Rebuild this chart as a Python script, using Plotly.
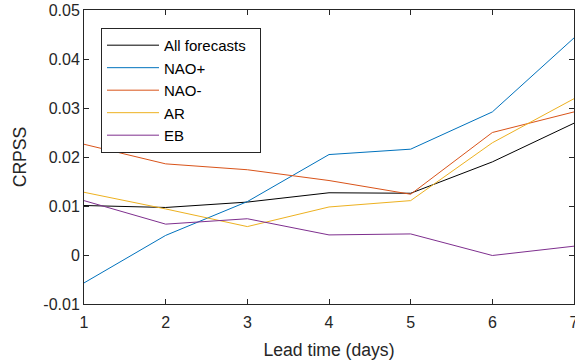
import plotly.graph_objects as go

lead_days = [1, 2, 3, 4, 5, 6, 7]
all_forecasts = [0.0101, 0.0097, 0.0108, 0.0127, 0.0126, 0.0190, 0.0269]
nao_pos = [-0.0057, 0.0040, 0.0109, 0.0205, 0.0216, 0.0292, 0.0443]
nao_neg = [0.0226, 0.0186, 0.0174, 0.0152, 0.0124, 0.0250, 0.0292]
ar = [0.0128, 0.0094, 0.0058, 0.0098, 0.0111, 0.0229, 0.0319]
eb = [0.0111, 0.0063, 0.0074, 0.0041, 0.0043, -0.0001, 0.0018]

series_names = ["All forecasts", "NAO+", "NAO-", "AR", "EB"]
series_values = [all_forecasts, nao_pos, nao_neg, ar, eb]
series_colors = ["#000000", "#0072BD", "#D95319", "#EDB120", "#7E2F8E"]

y_ticks = [-0.01, 0, 0.01, 0.02, 0.03, 0.04, 0.05]
y_tick_text = ["-0.01", "0", "0.01", "0.02", "0.03", "0.04", "0.05"]

TEXT = "#262626"
FONT = "Liberation Sans, Arial, sans-serif"

fig = go.Figure()
for name, vals, col in zip(series_names, series_values, series_colors):
    # trailing non-breaking spaces give the legend box some right padding
    fig.add_trace(go.Scatter(x=lead_days, y=vals, mode="lines", name=name + "\u00a0\u00a0",
                             line=dict(color=col, width=1)))

axis_common = dict(showline=True, linecolor=TEXT, linewidth=1, mirror="allticks",
                   ticks="inside", ticklen=5, tickcolor=TEXT, tickwidth=1,
                   showgrid=False, zeroline=False, automargin=False,
                   tickfont=dict(family=FONT, size=16, color=TEXT))

fig.update_layout(
    width=575, height=363,
    margin=dict(l=84, r=1, t=10, b=59),
    paper_bgcolor="white", plot_bgcolor="white",
    font=dict(family=FONT, color=TEXT),
    xaxis=dict(range=[1, 7], tickvals=lead_days, ticklabeloverflow="allow",
               ticklabelstandoff=4,
               title=dict(text="Lead time (days)", font=dict(family=FONT, size=17.6, color=TEXT), standoff=13),
               **axis_common),
    yaxis=dict(range=[-0.01, 0.05], tickvals=y_ticks, ticktext=y_tick_text,
               title=dict(text="CRPSS", font=dict(family=FONT, size=17.6, color=TEXT), standoff=12),
               **axis_common),
    legend=dict(x=0.0347, y=0.939, xanchor="left", yanchor="top",
                bgcolor="white", bordercolor=TEXT, borderwidth=1,
                font=dict(family=FONT, size=15, color="#000000"),
                itemwidth=52, tracegroupgap=0),
    showlegend=True,
)

fig.write_html("out.html")
